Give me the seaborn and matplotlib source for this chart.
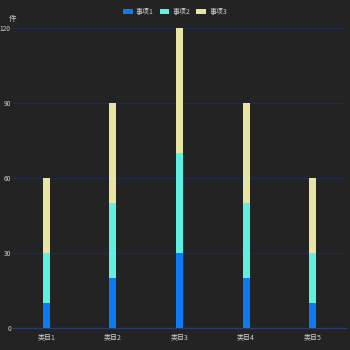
import matplotlib
matplotlib.use("Agg")
import matplotlib.pyplot as plt
import seaborn as sns
import pandas as pd
import numpy as np
from matplotlib.patches import Patch

categories = ["类目1", "类目2", "类目3", "类目4", "类目5"]
series_names = ["事项1", "事项2", "事项3"]
s1 = [10, 20, 30, 20, 10]
s2 = [20, 30, 40, 30, 20]
s3 = [30, 40, 50, 40, 30]
y_ticks = [0, 30, 60, 90, 120]
unit = "件"

colors = ["#0a7af5", "#5ef0e0", "#e8e4a2"]
bg = "#232323"

sns.set_theme(style="dark")
plt.rcParams['font.family'] = ['Noto Sans CJK SC', 'DejaVu Sans']

fig = plt.figure(figsize=(3.5, 3.5), dpi=100, facecolor=bg)
ax = fig.add_axes([13/350, 22/350, 333/350, 300/350])
ax.set_facecolor(bg)

c1 = np.array(s1)
c2 = c1 + np.array(s2)
c3 = c2 + np.array(s3)

for vals, col in [(c3, colors[2]), (c2, colors[1]), (c1, colors[0])]:
    df = pd.DataFrame({"cat": categories, "val": vals})
    sns.barplot(data=df, x="cat", y="val", color=col, width=0.105,
                saturation=1, ax=ax, zorder=3, edgecolor="none", linewidth=0)

ax.set_ylim(0, 120)
ax.set_xlim(-0.5, 4.5)
ax.set_yticks(y_ticks)
ax.set_yticklabels([str(v) for v in y_ticks])
ax.grid(axis="y", color="#1e2a4e", linewidth=1, zorder=0)
ax.grid(axis="x", visible=False)
for s in ["top", "right", "left"]:
    ax.spines[s].set_visible(False)
ax.spines["bottom"].set_color("#2a3a6e")
ax.spines["bottom"].set_linewidth(1)
ax.tick_params(axis="x", length=0, labelsize=5, colors="#d0d0d0", pad=4)
ax.tick_params(axis="y", length=0, labelsize=4.8, colors="#d0d0d0", pad=1.5)
ax.set_xlabel("")
ax.set_ylabel("")

fig.text(13/350, 1 - 19/350, unit, fontsize=5.5, color="#d0d0d0", ha="center", va="center")

handles = [Patch(facecolor=c, edgecolor="none") for c in colors]
fig.legend(handles, series_names, loc="center", bbox_to_anchor=(0.5, 1 - 12/350),
           ncol=3, frameon=False, fontsize=5, labelcolor="#d0d0d0",
           handlelength=1.4, handleheight=0.8, columnspacing=0.8, handletextpad=0.5)

fig.savefig("out.png", dpi=100, facecolor=bg)
